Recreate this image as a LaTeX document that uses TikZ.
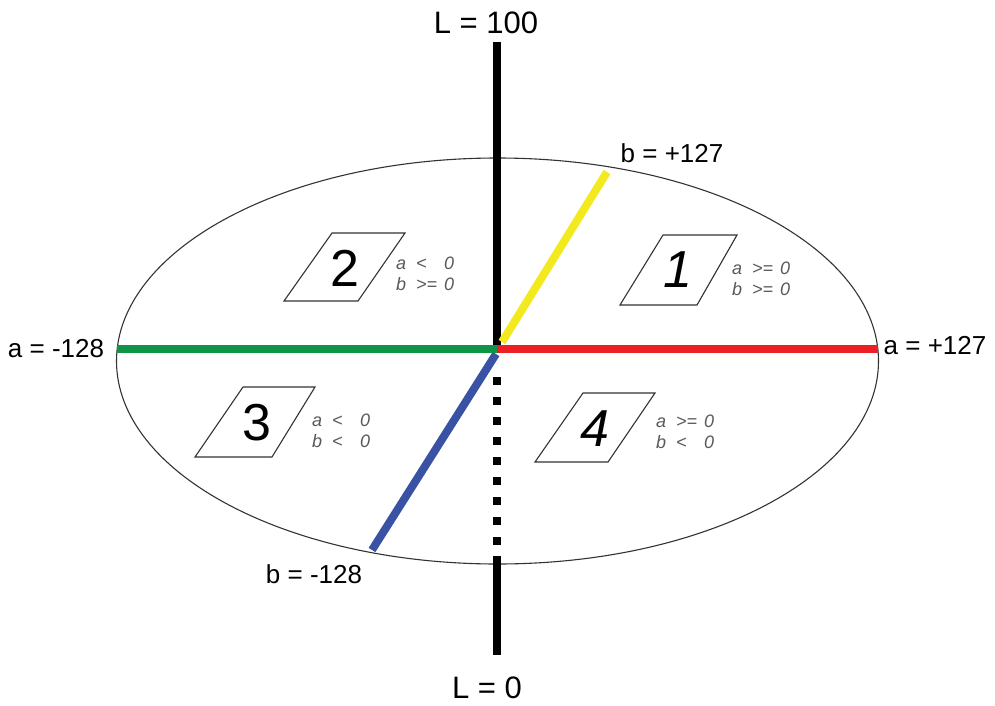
\documentclass[tikz,border=0pt]{standalone}
\usepackage{fontspec}
\setmainfont{Liberation Sans}
\begin{document}
\begin{tikzpicture}[x=1pt,y=-1pt,
  axis/.style={line width=7.5pt,line cap=butt,black},
  chan/.style={line width=8pt,line cap=butt},
  quad/.style={draw=black!80,line width=1.1pt,fill=white,line join=miter},
  digit/.style={font=\fontsize{52}{52}\selectfont,inner sep=0pt},
  cond/.style={font=\itshape\fontsize{18}{21}\selectfont,text=black!65,align=left,anchor=west,inner sep=0pt},
  lab/.style={font=\fontsize{26}{26}\selectfont,inner sep=0pt},
  llab/.style={font=\fontsize{31}{31}\selectfont,inner sep=0pt}]
\definecolor{cgreen}{RGB}{16,148,70}
\definecolor{cred}{RGB}{236,32,36}
\definecolor{cyellow}{RGB}{242,234,30}
\definecolor{cblue}{RGB}{58,82,164}
\newcommand\opbx[1]{\makebox[1.55em][l]{#1}}
\useasboundingbox (0,0) rectangle (995,706);
% ellipse
\draw[black!80,line width=1.1pt] (497.5,361) ellipse [x radius=381, y radius=203];
% coordinates
\coordinate (O) at (497,349);
\coordinate (Ltop) at (497,42);
\coordinate (Lbot) at (497,655);
\coordinate (Dstart) at (497,377);
\coordinate (Dend) at (497,550);
\coordinate (Sbot) at (497,556);
\coordinate (aneg) at (117,349);
\coordinate (apos) at (878,349);
\coordinate (bpos) at (607,172);
\coordinate (ybase) at (502,342);
\coordinate (bneg) at (372,550);
\coordinate (bbase) at (496,354);
% axes
\draw[axis] (Ltop) -- (O);
\draw[axis,dash pattern=on 8pt off 12pt] (Dstart) -- (Dend);
\draw[axis] (Sbot) -- (Lbot);
\draw[chan,cyellow] (ybase) -- (bpos);
\draw[chan,cblue] (bbase) -- (bneg);
\draw[chan,cgreen] (aneg) -- (O);
\draw[chan,cred] (O) -- (apos);
% labels
\node[llab] (l100) at (486,23) {L = 100};
\node[llab] (l0) at (487,688) {L = 0};
\node[lab] (am) at (56,349) {a = -128};
\node[lab] (ap) at (935,346) {a = +127};
\node[lab] (bp) at (672,153) {b = +127};
\node[lab] (bm) at (314,574) {b = -128};
% quadrants
\draw[quad] (332,233) -- (405,233) -- (358,301) -- (284,301) -- cycle;
\node[digit] (q2) at (345,268) {2};
\node[cond] (c2) at (396,274) {a\hspace{0.55em}\opbx{<}0\\b\hspace{0.55em}\opbx{>=}0};
\draw[quad] (663,235) -- (737,235) -- (697,305) -- (620,305) -- cycle;
\node[digit] (q1) at (678,270) {\itshape 1};
\node[cond] (c1) at (732,279) {a\hspace{0.55em}\opbx{>=}0\\b\hspace{0.55em}\opbx{>=}0};
\draw[quad] (243,387) -- (315,387) -- (272,457) -- (195,457) -- cycle;
\node[digit] (q3) at (257,423) {3};
\node[cond] (c3) at (312,431) {a\hspace{0.55em}\opbx{<}0\\b\hspace{0.55em}\opbx{<}0};
\draw[quad] (583,393) -- (655,393) -- (608,462) -- (535,462) -- cycle;
\node[digit] (q4) at (595,429) {\itshape 4};
\node[cond] (c4) at (656,432) {a\hspace{0.55em}\opbx{>=}0\\b\hspace{0.55em}\opbx{<}0};
\end{tikzpicture}
\end{document}
